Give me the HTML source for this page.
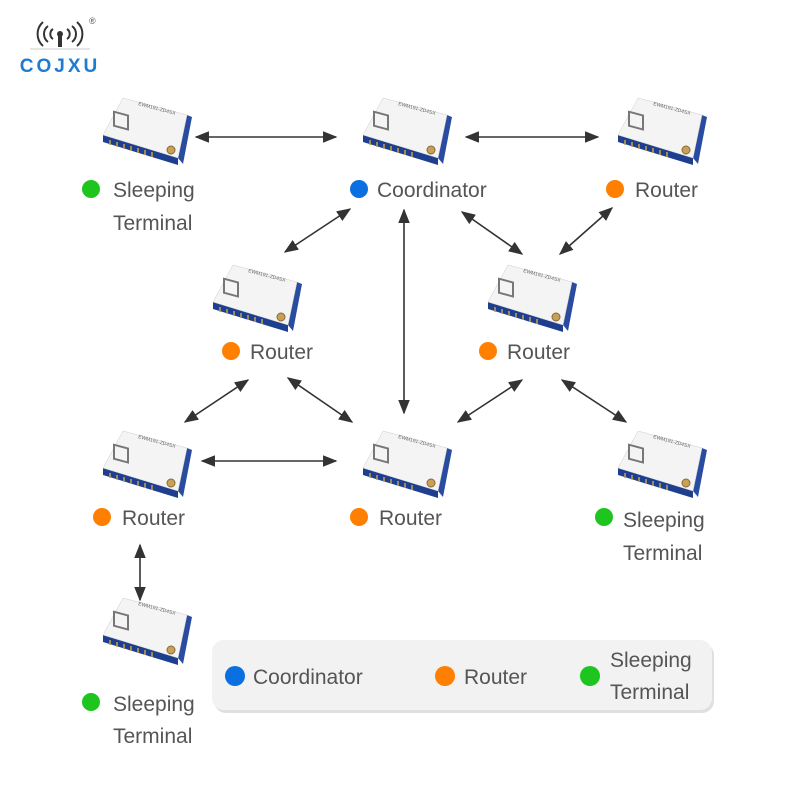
<!DOCTYPE html>
<html><head><style>
body{margin:0;width:800px;height:800px;background:#fff;overflow:hidden;font-family:"Liberation Sans",sans-serif;}
</style></head><body>
<svg width="800" height="800" viewBox="0 0 800 800" xmlns="http://www.w3.org/2000/svg">
<defs>
<marker id="ah" viewBox="0 0 10 10" refX="9" refY="5" markerWidth="9" markerHeight="9" orient="auto-start-reverse"><path d="M0,1 L10,5 L0,9 z" fill="#333"/></marker>
<g id="mod">
<polygon points="3,40 78,63 78,70 3,47" fill="#1e3f8f"/>
<polygon points="78,63 87,20 92,22 83,69" fill="#2a4ca0"/>
<polygon points="23,3 87,20 78,63 3,40" fill="#f4f4f4" stroke="#ccc" stroke-width="0.5"/>
<rect x="14" y="17" width="14" height="14" fill="none" stroke="#777" stroke-width="2" transform="skewY(15) translate(0,-4)"/>
<text x="38" y="10" font-size="5" fill="#666" transform="rotate(15 38 10)">EWM191-ZD4SX</text>
<g stroke="#c9a24a" stroke-width="1.5"><line x1="10" y1="45" x2="10" y2="50"/><line x1="17" y1="47" x2="17" y2="52"/><line x1="24" y1="49" x2="24" y2="54"/><line x1="31" y1="51" x2="31" y2="56"/><line x1="38" y1="53" x2="38" y2="58"/><line x1="45" y1="55" x2="45" y2="60"/><line x1="52" y1="57" x2="52" y2="62"/></g>
<circle cx="71" cy="55" r="4" fill="#c7a05a" stroke="#8a6a30"/>
</g>
</defs>
<!-- logo -->
<g fill="none" stroke="#333" stroke-width="2">
<path d="M48,26 a10,10 0 0 0 0,16"/><path d="M72,26 a10,10 0 0 1 0,16"/>
<path d="M43,22 a16,16 0 0 0 0,24"/><path d="M77,22 a16,16 0 0 1 0,24"/>
<path d="M53,29 a6,6 0 0 0 0,10"/><path d="M67,29 a6,6 0 0 1 0,10"/>
</g>
<circle cx="60" cy="34" r="3" fill="#333"/><rect x="58" y="35" width="4" height="12" fill="#333"/>
<line x1="30" y1="49" x2="90" y2="49" stroke="#ccc"/>
<text x="89" y="24" font-size="9" fill="#555">®</text>
<text x="60" y="72" font-size="19" font-weight="bold" fill="#1f7bd0" text-anchor="middle" letter-spacing="3">COJXU</text>
<!-- modules -->
<use href="#mod" x="100" y="95"/><use href="#mod" x="360" y="95"/><use href="#mod" x="615" y="95"/>
<use href="#mod" x="210" y="262"/><use href="#mod" x="485" y="262"/>
<use href="#mod" x="100" y="428"/><use href="#mod" x="360" y="428"/><use href="#mod" x="615" y="428"/>
<use href="#mod" x="100" y="595"/>
<!-- arrows -->
<g stroke="#333" stroke-width="1.6" marker-start="url(#ah)" marker-end="url(#ah)">
<line x1="196" y1="137" x2="336" y2="137"/>
<line x1="466" y1="137" x2="598" y2="137"/>
<line x1="350" y1="209" x2="285" y2="252"/>
<line x1="404" y1="210" x2="404" y2="413"/>
<line x1="462" y1="212" x2="522" y2="254"/>
<line x1="612" y1="208" x2="560" y2="254"/>
<line x1="248" y1="380" x2="185" y2="422"/>
<line x1="288" y1="378" x2="352" y2="422"/>
<line x1="522" y1="380" x2="458" y2="422"/>
<line x1="562" y1="380" x2="626" y2="422"/>
<line x1="202" y1="461" x2="336" y2="461"/>
<line x1="140" y1="545" x2="140" y2="600"/>
</g>
<!-- labels -->
<g font-size="21" fill="#555">
<circle cx="91" cy="189" r="9" fill="#1ec51e"/><text x="113" y="197">Sleeping</text><text x="113" y="230">Terminal</text>
<circle cx="359" cy="189" r="9" fill="#0a6fe0"/><text x="377" y="197">Coordinator</text>
<circle cx="615" cy="189" r="9" fill="#ff7f00"/><text x="635" y="197">Router</text>
<circle cx="231" cy="351" r="9" fill="#ff7f00"/><text x="250" y="359">Router</text>
<circle cx="488" cy="351" r="9" fill="#ff7f00"/><text x="507" y="359">Router</text>
<circle cx="102" cy="517" r="9" fill="#ff7f00"/><text x="122" y="525">Router</text>
<circle cx="359" cy="517" r="9" fill="#ff7f00"/><text x="379" y="525">Router</text>
<circle cx="604" cy="517" r="9" fill="#1ec51e"/><text x="623" y="527">Sleeping</text><text x="623" y="560">Terminal</text>
<circle cx="91" cy="702" r="9" fill="#1ec51e"/><text x="113" y="711">Sleeping</text><text x="113" y="743">Terminal</text>
</g>
<!-- legend -->
<rect x="214" y="643" width="500" height="70" rx="12" fill="#ccc" opacity="0.6"/>
<rect x="212" y="640" width="500" height="70" rx="12" fill="#f2f2f2"/>
<g font-size="21" fill="#555">
<circle cx="235" cy="676" r="10" fill="#0a6fe0"/><text x="253" y="684">Coordinator</text>
<circle cx="445" cy="676" r="10" fill="#ff7f00"/><text x="464" y="684">Router</text>
<circle cx="590" cy="676" r="10" fill="#1ec51e"/><text x="610" y="667">Sleeping</text><text x="610" y="699">Terminal</text>
</g>
</svg>
</body></html>
